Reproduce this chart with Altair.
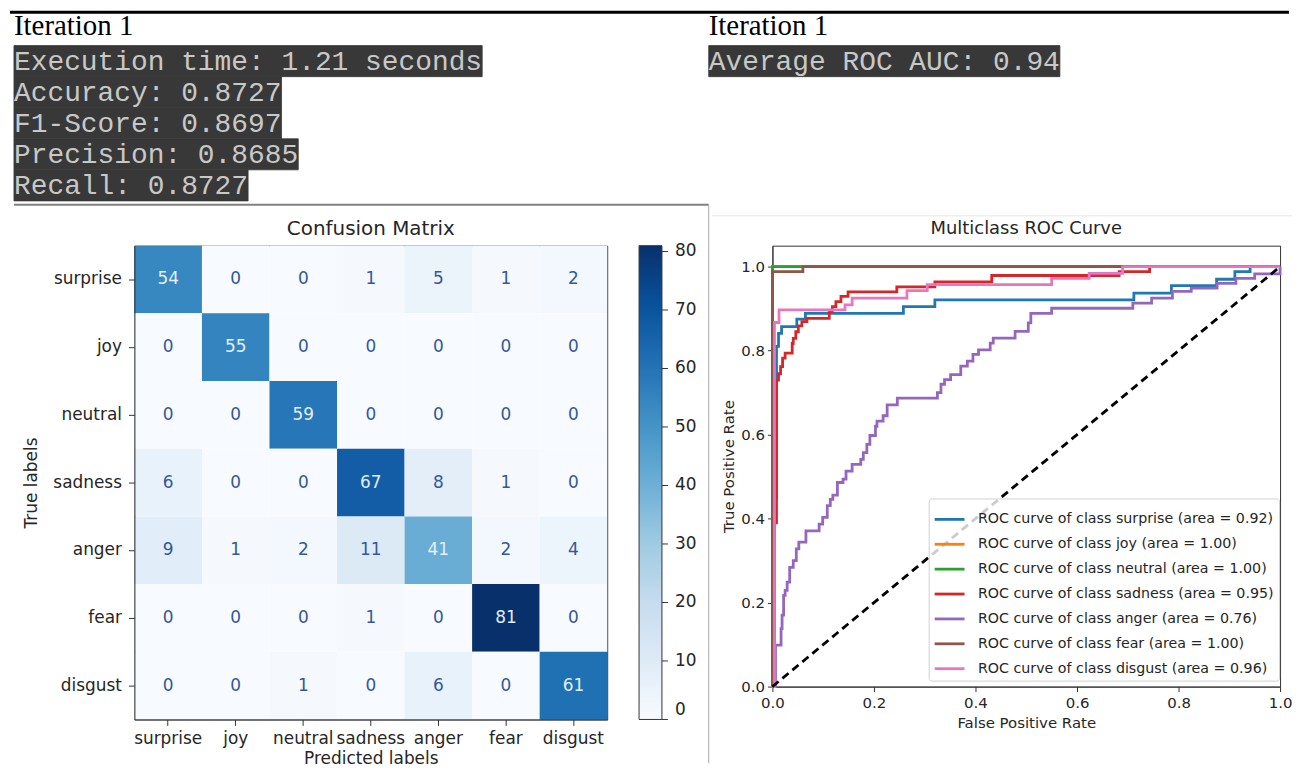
import altair as alt
import pandas as pd

# ---------------- header text ----------------
iteration_titles = ["Iteration 1", "Iteration 1"]
left_lines = [
    "Execution time: 1.21 seconds",
    "Accuracy: 0.8727",
    "F1-Score: 0.8697",
    "Precision: 0.8685",
    "Recall: 0.8727",
]
right_lines = ["Average ROC AUC: 0.94"]

# ---------------- confusion matrix ----------------
classes = ["surprise", "joy", "neutral", "sadness", "anger", "fear", "disgust"]
cm_values = [
    [54, 0, 0, 1, 5, 1, 2],
    [0, 55, 0, 0, 0, 0, 0],
    [0, 0, 59, 0, 0, 0, 0],
    [6, 0, 0, 67, 8, 1, 0],
    [9, 1, 2, 11, 41, 2, 4],
    [0, 0, 0, 1, 0, 81, 0],
    [0, 0, 1, 0, 6, 0, 61],
]
colorbar_ticks = [0, 10, 20, 30, 40, 50, 60, 70, 80]

# ---------------- ROC curves (corner points) ----------------
fpr_surprise = [0.0, 0.004, 0.008, 0.012, 0.018, 0.048, 0.065, 0.258, 0.32, 0.712, 0.786, 0.875, 0.911, 0.941, 1.0]
tpr_surprise = [0.0, 0.45, 0.81, 0.841, 0.857, 0.875, 0.889, 0.905, 0.921, 0.937, 0.955, 0.97, 0.988, 1.0, 1.0]
fpr_joy = [0.0, 0.0, 1.0]
tpr_joy = [0.0, 1.0, 1.0]
fpr_neutral = [0.0, 0.0, 1.0]
tpr_neutral = [0.0, 1.0, 1.0]
fpr_sadness = [0.0, 0.004, 0.008, 0.012, 0.016, 0.02, 0.025, 0.039, 0.041, 0.046, 0.051, 0.058, 0.068,
               0.112, 0.118, 0.125, 0.135, 0.149, 0.245, 0.32, 0.432, 0.683, 0.743, 1.0]
tpr_sadness = [0.0, 0.39, 0.73, 0.745, 0.762, 0.782, 0.794, 0.817, 0.829, 0.845, 0.859, 0.869, 0.877,
               0.893, 0.905, 0.917, 0.929, 0.94, 0.952, 0.964, 0.979, 0.988, 1.0, 1.0]
fpr_anger = [0.0, 0.006, 0.017, 0.019, 0.022, 0.025, 0.029, 0.034, 0.041, 0.047, 0.052, 0.066, 0.092,
             0.099, 0.108, 0.114, 0.119, 0.128, 0.139, 0.145, 0.157, 0.174, 0.179, 0.186, 0.192, 0.203,
             0.206, 0.218, 0.226, 0.246, 0.325, 0.332, 0.339, 0.351, 0.371, 0.384, 0.395, 0.406, 0.429,
             0.435, 0.478, 0.504, 0.509, 0.55, 0.71, 0.747, 0.788, 0.825, 0.876, 0.913, 0.95, 1.0]
tpr_anger = [0.0, 0.099, 0.138, 0.17, 0.217, 0.229, 0.249, 0.284, 0.3, 0.328, 0.344, 0.371, 0.387,
             0.403, 0.431, 0.446, 0.456, 0.486, 0.494, 0.513, 0.529, 0.541, 0.557, 0.577, 0.598, 0.62,
             0.632, 0.645, 0.671, 0.687, 0.70, 0.72, 0.731, 0.743, 0.763, 0.775, 0.791, 0.802, 0.818,
             0.83, 0.846, 0.866, 0.889, 0.901, 0.913, 0.925, 0.941, 0.949, 0.96, 0.972, 0.983, 1.0]
fpr_fear = [0.0, 0.0, 0.06, 1.0]
tpr_fear = [0.0, 0.988, 1.0, 1.0]
fpr_disgust = [0.0, 0.004, 0.013, 0.143, 0.157, 0.265, 0.305, 0.55, 0.624, 0.69, 1.0]
tpr_disgust = [0.0, 0.867, 0.897, 0.909, 0.925, 0.943, 0.957, 0.972, 0.984, 1.0, 1.0]
roc_areas = ["0.92", "1.00", "1.00", "0.95", "0.76", "1.00", "0.96"]
diag_x = [0.0, 1.0]
diag_y = [0.0, 1.0]
roc_x_ticks = [0.0, 0.2, 0.4, 0.6, 0.8, 1.0]
roc_y_ticks = [0.0, 0.2, 0.4, 0.6, 0.8, 1.0]

tab10 = ["#1f77b4", "#ff7f0e", "#2ca02c", "#d62728", "#9467bd", "#8c564b", "#e377c2"]
blues = ["#f7fbff", "#deebf7", "#c6dbef", "#9ecae1", "#6baed6", "#4292c6", "#2171b5", "#08519c", "#08306b"]

FONT = "DejaVu Sans"
INK = "#262626"
one = pd.DataFrame({"a": [0]})

# ================= header (origin aligned with the matrix plot, page x = 133) =================
HW, HH = 1160, 192
CH = 16.8      # advance of a 28px monospace glyph
LH = 31.2      # line height of the output block
LX, RX = -121, 577
rows = []
for i, s in enumerate(left_lines):
    y0 = 35 + i * LH
    rows.append(dict(s=s, x0=LX, x1=LX + len(s) * CH, y0=y0, y1=y0 + LH, ty=y0 + 24.5))
for i, s in enumerate(right_lines):
    y0 = 35 + i * LH
    rows.append(dict(s=s, x0=RX, x1=RX + len(s) * CH, y0=y0, y1=y0 + LH, ty=y0 + 24.5))
hdf = pd.DataFrame(rows)
itdf = pd.DataFrame(dict(s=iteration_titles, x=[LX, RX], y=[24, 24]))

hx = alt.Scale(domain=[0, HW], nice=False, zero=False)
hy = alt.Scale(domain=[0, HH], nice=False, zero=False, reverse=True)

h_line = alt.Chart(one).mark_rule(color="black", strokeWidth=3).encode(
    x=alt.value(-125), x2=alt.value(HW), y=alt.value(1.5))
h_box = alt.Chart(hdf).mark_rect(color="#383838", stroke="#383838", strokeWidth=0.8).encode(
    x=alt.X("x0:Q", scale=hx, axis=None), x2="x1:Q",
    y=alt.Y("y0:Q", scale=hy, axis=None), y2="y1:Q")
h_txt = alt.Chart(hdf).mark_text(font="Liberation Mono", fontSize=28, color="#c8c8c8",
                                 align="left", baseline="alphabetic").encode(
    x=alt.X("x0:Q", scale=hx, axis=None), y=alt.Y("ty:Q", scale=hy, axis=None), text="s:N")
h_it = alt.Chart(itdf).mark_text(font="Liberation Serif", fontSize=29, color="black",
                                 align="left", baseline="alphabetic").encode(
    x=alt.X("x:Q", scale=hx, axis=None), y=alt.Y("y:Q", scale=hy, axis=None), text="s:N")
header = alt.layer(h_line, h_box, h_txt, h_it).properties(
    width=HW, height=HH, view=alt.ViewBackground(stroke="transparent"))

# ================= confusion matrix =================
cm_rows = []
for i, t in enumerate(classes):
    for j, p in enumerate(classes):
        cm_rows.append(dict(true=t, pred=p, v=cm_values[i][j]))
cmdf = pd.DataFrame(cm_rows)
vmax = max(max(r) for r in cm_values)
vmin = min(min(r) for r in cm_values)
thresh = (vmax + vmin) / 2.0
stops = [vmin + (vmax - vmin) * k / 8 for k in range(9)]
cbdf = pd.DataFrame(dict(t=colorbar_ticks))

CW, CHH = 475, 476
xcm = alt.X("pred:N", sort=classes, scale=alt.Scale(paddingInner=0, paddingOuter=0),
            axis=alt.Axis(title="Predicted labels", labelAngle=0, labelFontSize=17, titleFontSize=17,
                          titleFontWeight="normal", tickSize=6, labelPadding=5, titlePadding=4,
                          labelOverlap=False, domainColor="#333", tickColor="#333", grid=False,
                          labelColor=INK, titleColor=INK, labelFont=FONT, titleFont=FONT))
ycm = alt.Y("true:N", sort=classes, scale=alt.Scale(paddingInner=0, paddingOuter=0),
            axis=alt.Axis(title="True labels", labelFontSize=17, titleFontSize=17,
                          titleFontWeight="normal", tickSize=6, labelPadding=7, titlePadding=12,
                          domainColor="#333", tickColor="#333", grid=False,
                          labelColor=INK, titleColor=INK, labelFont=FONT, titleFont=FONT))
cm_rect = alt.Chart(cmdf).mark_rect().encode(
    x=xcm, y=ycm,
    color=alt.Color("v:Q", title=None,
                    scale=alt.Scale(domain=stops, range=blues, interpolate="rgb"),
                    legend=alt.Legend(orient="right", offset=32, padding=0, gradientLength=CHH,
                                      gradientThickness=23, gradientStrokeColor="#333",
                                      gradientStrokeWidth=1, labelFontSize=17, labelColor=INK,
                                      labelOffset=13, values=colorbar_ticks, labelFont=FONT)))
cm_text = alt.Chart(cmdf).mark_text(fontSize=17, font=FONT).encode(
    x=xcm, y=ycm, text="v:Q",
    color=alt.condition(alt.datum.v > thresh, alt.value("#e3eef9"), alt.value("#34589a")))
cm_title = alt.Chart(one).mark_text(text="Confusion Matrix", fontSize=20, font=FONT, color=INK,
                                    align="center", baseline="middle").encode(
    x=alt.value(CW / 2), y=alt.value(-17))
cm_top = alt.Chart(one).mark_rule(color="#808080", strokeWidth=2).encode(
    x=alt.value(-121), x2=alt.value(577), y=alt.value(-41))
cm_sep = alt.Chart(one).mark_rule(color="#a8a8a8", strokeWidth=1).encode(
    x=alt.value(577), y=alt.value(-41), y2=alt.value(520))
cm_left = alt.Chart(one).mark_rule(strokeOpacity=0, strokeWidth=1).encode(
    x=alt.value(-125), y=alt.value(-41), y2=alt.value(-38))
cm_main = alt.layer(cm_rect, cm_text, cm_title, cm_top, cm_sep, cm_left)
cm_cbticks = alt.Chart(cbdf).mark_rule(color="#333", strokeWidth=1).encode(
    x=alt.value(CW + 32 + 23), x2=alt.value(CW + 32 + 29),
    y=alt.Y("t:Q", scale=alt.Scale(domain=[vmin, vmax], nice=False, zero=False), axis=None))
cm = alt.layer(cm_main, cm_cbticks).resolve_scale(y="independent").properties(width=CW, height=CHH)

# ================= ROC =================
fprs = [fpr_surprise, fpr_joy, fpr_neutral, fpr_sadness, fpr_anger, fpr_fear, fpr_disgust]
tprs = [tpr_surprise, tpr_joy, tpr_neutral, tpr_sadness, tpr_anger, tpr_fear, tpr_disgust]
roc_labels = [f"ROC curve of class {c} (area = {a})" for c, a in zip(classes, roc_areas)]
rr = []
for c, lab, fx, ty in zip(classes, roc_labels, fprs, tprs):
    for k, (a, b) in enumerate(zip(fx, ty)):
        rr.append(dict(cls=c, label=lab, fpr=a, tpr=b, i=k))
rocdf = pd.DataFrame(rr)
diagdf = pd.DataFrame(dict(fpr=diag_x, tpr=diag_y))

RW, RH = 510, 443
xr = alt.X("fpr:Q", scale=alt.Scale(domain=[0, 1], nice=False, zero=False),
           axis=alt.Axis(values=roc_x_ticks, format=".1f", title="False Positive Rate",
                         labelFontSize=15, titleFontSize=15, titleFontWeight="normal",
                         tickSize=5, labelPadding=4, titlePadding=5, labelFlush=False, grid=False,
                         domainColor="#333", tickColor="#333", labelColor=INK, titleColor=INK,
                         labelFont=FONT, titleFont=FONT))
yr = alt.Y("tpr:Q", scale=alt.Scale(domain=[0, 1.05], nice=False, zero=False),
           axis=alt.Axis(values=roc_y_ticks, format=".1f", title="True Positive Rate",
                         labelFontSize=15, titleFontSize=15, titleFontWeight="normal",
                         tickSize=5, labelPadding=3, titlePadding=4, labelFlush=False, grid=False,
                         domainColor="#333", tickColor="#333", labelColor=INK, titleColor=INK,
                         labelFont=FONT, titleFont=FONT))
roc_legend = alt.Legend(orient="none", legendX=157, legendY=254, symbolType="stroke",
                        symbolSize=900, symbolStrokeWidth=2.8, labelFontSize=14.3,
                        labelColor=INK, labelFont=FONT, padding=4.5, rowPadding=1,
                        fillColor="rgba(255,255,255,0.8)", strokeColor="#d0d0d0",
                        cornerRadius=3, labelOffset=12, labelLimit=500)
roc_layers = []
for c in classes:
    roc_layers.append(
        alt.Chart(rocdf).transform_filter(alt.datum.cls == c)
        .mark_line(interpolate="step-after", strokeWidth=2.8)
        .encode(x=xr, y=yr, order="i:Q",
                color=alt.Color("label:N", title=None,
                                scale=alt.Scale(domain=roc_labels, range=tab10),
                                legend=roc_legend)))
diag = alt.Chart(diagdf).mark_line(color="black", strokeDash=[8, 5], strokeWidth=2.8).encode(x=xr, y=yr)
roc_title = alt.Chart(one).mark_text(text="Multiclass ROC Curve", fontSize=18, font=FONT, color=INK,
                                     align="center", baseline="middle").encode(
    x=alt.value(RW / 2), y=alt.value(-17))
roc_top = alt.Chart(one).mark_rule(color="#e6e6e6", strokeWidth=1).encode(
    x=alt.value(-61), x2=alt.value(522), y=alt.value(-30))
roc_bound = alt.Chart(one).mark_rule(strokeOpacity=0, strokeWidth=1).encode(
    x=alt.value(-61), y=alt.value(-41), y2=alt.value(-38))
roc = alt.layer(*roc_layers, diag, roc_title, roc_top, roc_bound).properties(width=RW, height=RH)

row = alt.hconcat(cm, roc, spacing=0).resolve_scale(
    color="independent", x="independent", y="independent").resolve_legend(color="independent")

chart = alt.vconcat(header, row, spacing=0).resolve_scale(
    color="independent", x="independent", y="independent").resolve_legend(
    color="independent").properties(padding=0).configure(font=FONT).configure_view(
    stroke="#333", strokeWidth=1).configure_axis(grid=False)

chart.save("out.html", embed_options={"renderer": "svg", "actions": False})
